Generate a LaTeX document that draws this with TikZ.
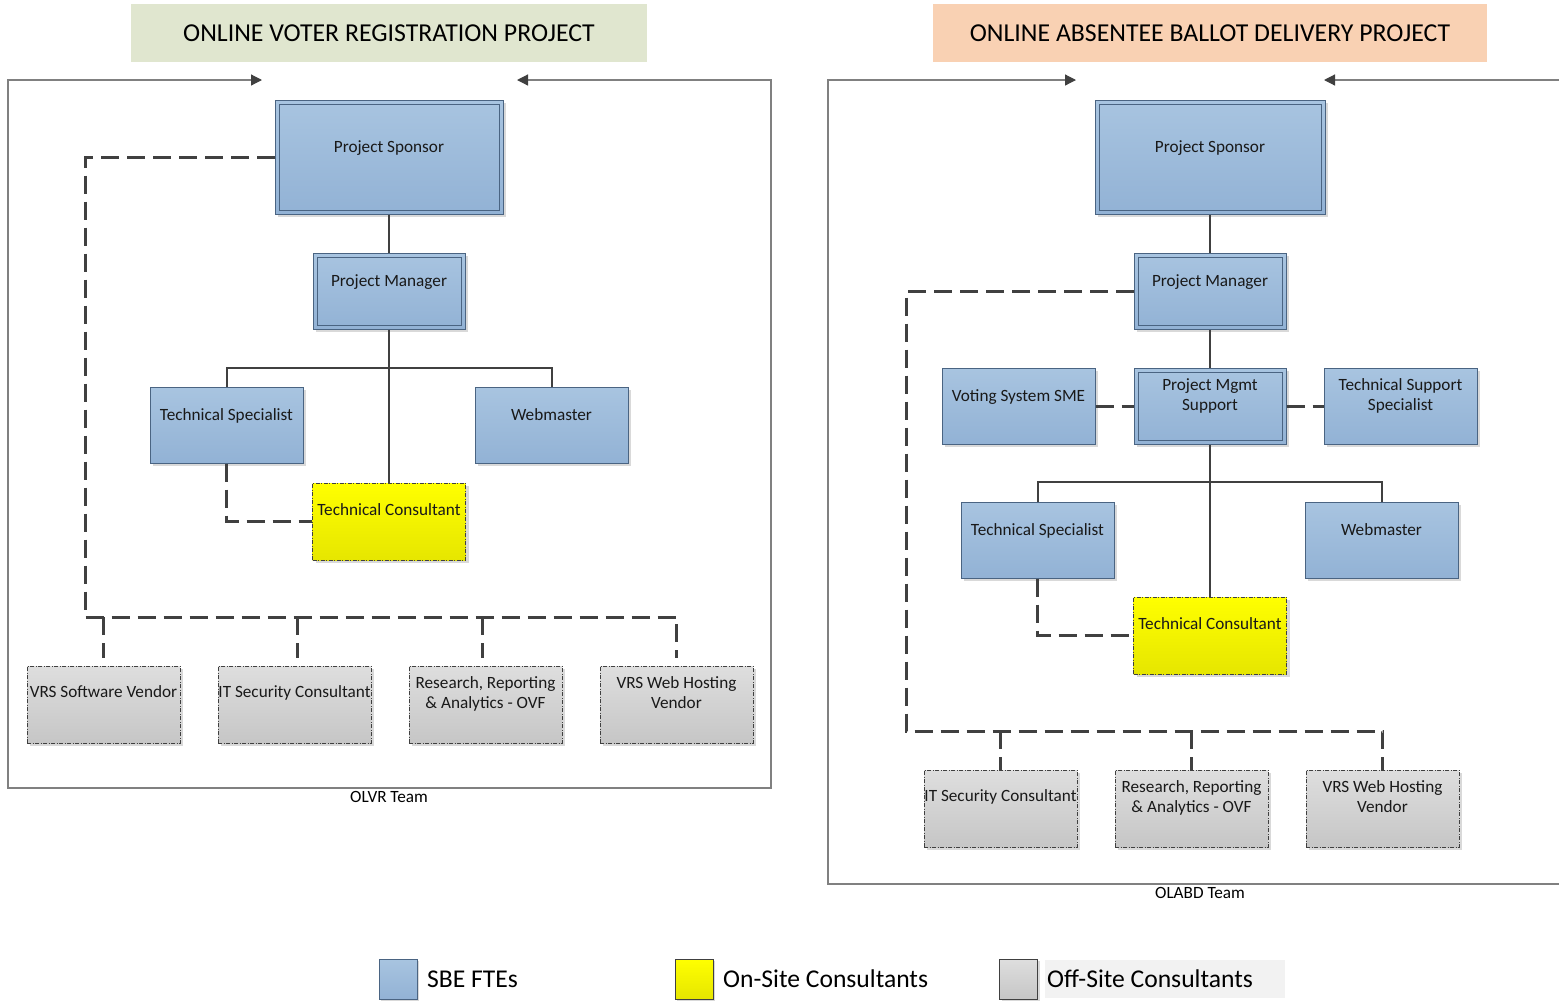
\documentclass[tikz,border=0pt]{standalone}
\usepackage{fontspec}
\setmainfont{Carlito}
\usetikzlibrary{arrows.meta,shadows}
\definecolor{boxline}{HTML}{4A6482}
\definecolor{bluetop}{HTML}{A8C4E0}
\definecolor{bluebot}{HTML}{92B2D5}
\definecolor{yeltop}{HTML}{FFFF00}
\definecolor{yelbot}{HTML}{E6E600}
\definecolor{graytop}{HTML}{DEDEDE}
\definecolor{graybot}{HTML}{C6C6C6}
\definecolor{conn}{HTML}{404040}
\definecolor{framegray}{HTML}{808080}
\definecolor{hdrgreen}{HTML}{E0E6CF}
\definecolor{hdrpeach}{HTML}{F9D1B3}
\definecolor{legbg}{HTML}{F2F2F2}
\newcommand{\bxfont}{\fontsize{17.2}{20}\selectfont}
\begin{document}
\begin{tikzpicture}[x=1pt,y=-1pt,
  box/.style={line width=1pt, inner sep=0pt, minimum width=153pt, minimum height=77pt,
    drop shadow={shadow xshift=3pt, shadow yshift=-3pt, fill=black!15, opacity=1}},
  sbe/.style={box, draw=boxline, top color=bluetop, bottom color=bluebot},
  dbl/.style={path picture={\draw[boxline, line width=1pt]
      ([shift={(4pt,-4pt)}]path picture bounding box.north west) rectangle
      ([shift={(-4pt,4pt)}]path picture bounding box.south east);}},
  onsite/.style={box, draw=conn, top color=yeltop, bottom color=yelbot,
    dash pattern=on 4pt off 1.5pt on 1pt off 1.5pt},
  offsite/.style={box, draw=conn, top color=graytop, bottom color=graybot,
    dash pattern=on 4pt off 1.5pt on 1pt off 1.5pt},
  lbl/.style={font=\bxfont, align=center, inner sep=0pt, text depth=0pt, text=black!90},
  solidline/.style={draw=conn, line width=2pt},
  dashline/.style={draw=conn, line width=3pt, dash pattern=on 18pt off 8pt},
  frame/.style={draw=framegray, line width=1.2pt},
  hdr/.style={minimum height=58pt, inner sep=0pt, font=\fontsize{25.8}{30}\selectfont},
  legbox/.style={line width=1pt, minimum width=38pt, minimum height=40pt, inner sep=0pt,
    drop shadow={shadow xshift=2pt, shadow yshift=-2pt, fill=black!15, opacity=1}},
  legtxt/.style={anchor=west, inner sep=0pt, font=\fontsize{25.6}{30}\selectfont}
]
\useasboundingbox (0,0) rectangle (1559,1005);

% headers
\node[hdr, fill=hdrgreen, minimum width=516pt] (h1) at (389,33) {ONLINE VOTER REGISTRATION PROJECT};
\node[hdr, fill=hdrpeach, minimum width=554pt] (h2) at (1210,33) {ONLINE ABSENTEE BALLOT DELIVERY PROJECT};

% frames
\coordinate (f1r) at (517,80);
\coordinate (f1l) at (262,80);
\coordinate (f2r) at (1324,80);
\coordinate (f2l) at (1076,80);
\coordinate (f2e) at (1559,80);
\coordinate (f2b) at (1559,884);
\draw[frame, arrows={{Triangle[length=11pt,width=11pt,color=conn]}-{Triangle[length=11pt,width=11pt,color=conn]}}]
  (f1r) -- (771,80) -- (771,788) -- (8,788) -- (8,80) -- (f1l);
\draw[frame, arrows={{Triangle[length=11pt,width=11pt,color=conn]}-}] (f2r) -- (f2e);
\draw[frame, arrows={-{Triangle[length=11pt,width=11pt,color=conn]}}] (f2b) -- (828,884) -- (828,80) -- (f2l);
\node[font=\bxfont, inner sep=0pt, text depth=0pt] (t1) at (389,797) {OLVR Team};
\node[font=\bxfont, inner sep=0pt, text depth=0pt] (t2) at (1200,893) {OLABD Team};

% ---------- left diagram ----------
\node[sbe, dbl, minimum width=228pt, minimum height=114pt] (ps1) at (389,157) {};
\node[sbe, dbl, minimum width=152pt, minimum height=76pt] (pm1) at (389,291) {};
\node[sbe, minimum height=76pt] (ts1) at (226.5,425) {};
\node[sbe, minimum height=76pt] (wm1) at (551.5,425) {};
\node[onsite] (tc1) at (389,521.5) {};
\node[offsite] (g1a) at (103.5,704.5) {};
\node[offsite] (g1b) at (294.5,704.5) {};
\node[offsite] (g1c) at (485.5,704.5) {};
\node[offsite] (g1d) at (676.5,704.5) {};

\node[lbl] (ps1t) at ([yshift=-47pt]ps1.north) {Project Sponsor};
\node[lbl] (pm1t) at ([yshift=-28pt]pm1.north) {Project Manager};
\node[lbl] (ts1t) at ([yshift=-28pt]ts1.north) {Technical Specialist};
\node[lbl] (wm1t) at ([yshift=-28pt]wm1.north) {Webmaster};
\node[lbl] (tc1t) at ([yshift=-27pt]tc1.north) {Technical Consultant};
\node[lbl] (g1at) at ([yshift=-26pt]g1a.north) {VRS Software Vendor};
\node[lbl] (g1bt) at ([yshift=-26pt]g1b.north) {IT Security Consultant};
\node[lbl] (g1ct) at ([yshift=-27pt]g1c.north) {Research, Reporting\\\& Analytics - OVF};
\node[lbl] (g1dt) at ([yshift=-27pt]g1d.north) {VRS Web Hosting\\Vendor};

\draw[solidline] (ps1.south) -- (pm1.north);
\draw[solidline] (pm1.south) -- (tc1.north);
\draw[solidline] (ts1.north) -- ++(0,-19) -| (wm1.north);

\coordinate (b1) at (85,617);
\draw[dashline] (ps1.west) -| (b1) -- (b1 -| g1d.north) -- ([yshift=8pt]g1d.north);
\draw[dashline] (b1 -| g1a.north) -- ([yshift=8pt]g1a.north);
\draw[dashline] ([xshift=3pt]b1 -| g1b.north) -- ([xshift=3pt,yshift=8pt]g1b.north);
\draw[dashline] ([xshift=-3pt]b1 -| g1c.north) -- ([xshift=-3pt,yshift=8pt]g1c.north);
\draw[dashline] (ts1.south) |- (tc1.west);

% ---------- right diagram ----------
\node[sbe, dbl, minimum width=230pt, minimum height=114pt] (ps2) at (1210,157) {};
\node[sbe, dbl, minimum width=152pt, minimum height=76pt] (pm2) at (1210,291) {};
\node[sbe, minimum height=76pt] (vs2) at (1018.5,406) {};
\node[sbe, dbl, minimum width=152pt, minimum height=76pt] (pms2) at (1210,406) {};
\node[sbe, minimum height=76pt] (tss2) at (1400.5,406) {};
\node[sbe, minimum height=76pt] (ts2) at (1037.5,540) {};
\node[sbe, minimum height=76pt] (wm2) at (1381.5,540) {};
\node[onsite] (tc2) at (1210,635.5) {};
\node[offsite] (g2a) at (1000.5,808.5) {};
\node[offsite] (g2b) at (1191.5,808.5) {};
\node[offsite] (g2c) at (1382.5,808.5) {};

\node[lbl] (ps2t) at ([yshift=-47pt]ps2.north) {Project Sponsor};
\node[lbl] (pm2t) at ([yshift=-28pt]pm2.north) {Project Manager};
\node[lbl] (vs2t) at ([yshift=-28pt]vs2.north) {Voting System SME};
\node[lbl] (pms2t) at ([yshift=-27.5pt]pms2.north) {Project Mgmt\\Support};
\node[lbl] (tss2t) at ([yshift=-27.5pt]tss2.north) {Technical Support\\Specialist};
\node[lbl] (ts2t) at ([yshift=-28pt]ts2.north) {Technical Specialist};
\node[lbl] (wm2t) at ([yshift=-28pt]wm2.north) {Webmaster};
\node[lbl] (tc2t) at ([yshift=-27pt]tc2.north) {Technical Consultant};
\node[lbl] (g2at) at ([yshift=-26pt]g2a.north) {IT Security Consultant};
\node[lbl] (g2bt) at ([yshift=-27pt]g2b.north) {Research, Reporting\\\& Analytics - OVF};
\node[lbl] (g2ct) at ([yshift=-27pt]g2c.north) {VRS Web Hosting\\Vendor};

\draw[solidline] (ps2.south) -- (pm2.north);
\draw[solidline] (pm2.south) -- (pms2.north);
\draw[solidline] (pms2.south) -- (tc2.north);
\draw[solidline] (ts2.north) -- ++(0,-20) -| (wm2.north);
\draw[dashline] (vs2.east) -- (pms2.west);
\draw[dashline] (pms2.east) -- (tss2.west);
\draw[dashline] (ts2.south) |- (tc2.west);

\coordinate (b2) at (906,731);
\draw[dashline] (pm2.west) -| (b2) -- (b2 -| g2c.north) -- (g2c.north);
\draw[dashline] (b2 -| g2a.north) -- (g2a.north);
\draw[dashline] (b2 -| g2b.north) -- (g2b.north);

% ---------- legend ----------
\node[legbox, draw=boxline, top color=bluetop, bottom color=bluebot] (lg1) at (398,979) {};
\node[legtxt] (lg1t) at (427,979) {SBE FTEs};
\node[legbox, draw=conn, top color=yeltop, bottom color=yelbot] (lg2) at (694,979) {};
\node[legtxt] (lg2t) at (723,979) {On-Site Consultants};
\node[fill=legbg, minimum width=240pt, minimum height=38pt, inner sep=0pt] (lg3bg) at (1165,979) {};
\node[legbox, draw=conn, top color=graytop, bottom color=graybot] (lg3) at (1018.5,979) {};
\node[legtxt] (lg3t) at (1047,979) {Off-Site Consultants};
\end{tikzpicture}
\end{document}
